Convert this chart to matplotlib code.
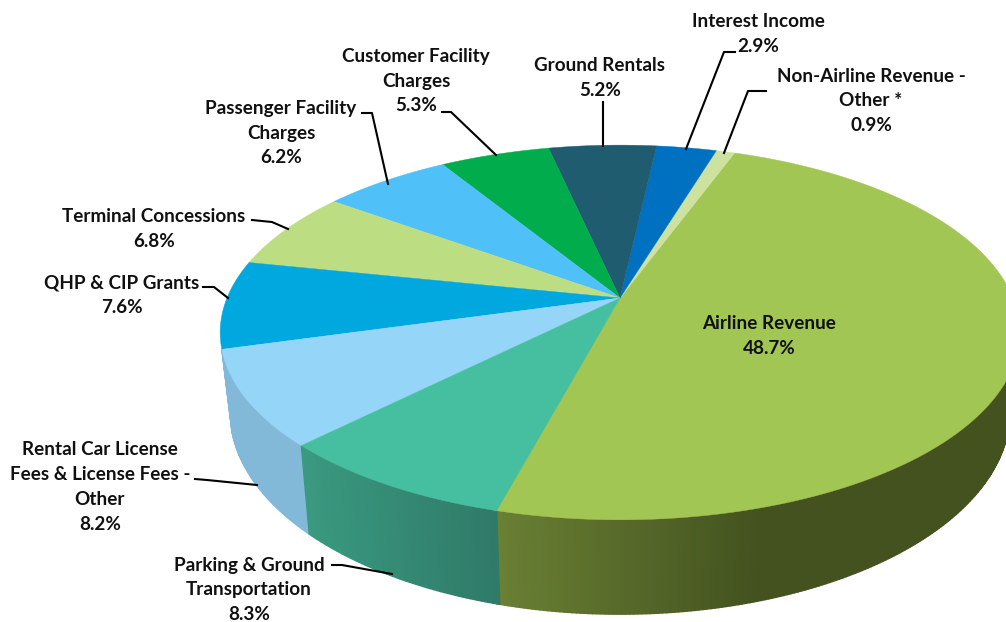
import numpy as np
import matplotlib
matplotlib.use("Agg")
import matplotlib.pyplot as plt
from matplotlib.colors import to_rgb

plt.rcParams['font.family'] = ['Lato', 'DejaVu Sans']

# slices, counter clockwise starting after the airline wedge
categories = ["Airline Revenue", "Non-Airline Revenue - Other *", "Interest Income",
              "Ground Rentals", "Customer Facility Charges", "Passenger Facility Charges",
              "Terminal Concessions", "QHP & CIP Grants",
              "Rental Car License Fees & License Fees - Other",
              "Parking & Ground Transportation"]
shares = [48.7, 0.9, 2.9, 5.2, 5.3, 6.2, 6.8, 7.6, 8.2, 8.3]
top_colors = ["#a1c653", "#cde29f", "#0070c0", "#1f5c70", "#00ac4c", "#4fc1f8",
              "#bddd83", "#00a8e0", "#95d6f8", "#45bfa0"]
wall_colors = {0: "#6a8034", 8: "#82b8d8", 9: "#3a9a80"}  # only these walls show

# tilted disc, pixel-like units
cx, cy = 620, 298
a, b, p = 393, 181, 0.184
depth = 77
shrink = 0.975
start = 70.0


def project(t, drop=0.0):
    u, v = np.cos(t), np.sin(t)
    w = 1 + p * v
    scale = shrink if drop else 1.0
    return cx + scale * a * u / w, cy - b * v / w + drop / w


def shade(i, t):
    # side walls darken towards the lower right, airline goes nearly black green
    base = np.array(to_rgb(wall_colors[i]))
    x = project(t)[0]
    if i == 0:
        f = np.clip((x - 495) / 265, 0, 1)
        return tuple(base * (1 - f) + np.array(to_rgb("#43521f")) * f)
    if i == 9:
        f = np.clip((x - 300) / 195, 0, 1)
        return tuple(base * (1 - f) + np.array(to_rgb("#2f7a68")) * f)
    return tuple(base)


fig = plt.figure(figsize=(10.06, 6.22), dpi=100)
ax = fig.add_axes([0, 0, 1, 1])
ax.set_xlim(0, 1006)
ax.set_ylim(622, 0)
ax.axis('off')

angles = np.radians(start + 3.6 * np.concatenate([[-shares[0]], [0], np.cumsum(shares[1:])]))
edges = [(angles[0], angles[1])] + [(angles[i], angles[i + 1]) for i in range(1, len(shares))]

# walls first
for i, (t0, t1) in enumerate(edges):
    if i not in wall_colors:
        continue
    ts = np.arange(t0, t1, np.radians(0.5))
    ts = np.append(ts, t1)
    for s0, s1 in zip(ts[:-1], ts[1:]):
        if np.sin((s0 + s1) / 2) > -0.02:
            continue
        x0, y0 = project(s0)
        x1, y1 = project(s1)
        x2, y2 = project(s1, depth)
        x3, y3 = project(s0, depth)
        c = shade(i, s0)
        ax.fill([x0, x1, x2, x3], [y0, y1, y2, y3], color=c, lw=1.0)

# top face
for i, (t0, t1) in enumerate(edges):
    ts = np.linspace(t0, t1, 200)
    x, y = project(ts)
    ax.fill(np.r_[cx, x], np.r_[cy, y], color=top_colors[i], lw=0.3)

labels = [
    ("Airline Revenue\n48.7%", 769, 336),
    ("Non-Airline Revenue -\nOther *\n0.9%", 871, 101),
    ("Interest Income\n2.9%", 758, 34),
    ("Ground Rentals\n5.2%", 600, 78),
    ("Customer Facility\nCharges\n5.3%", 416, 81),
    ("Passenger Facility\nCharges\n6.2%", 281, 133),
    ("Terminal Concessions\n6.8%", 154, 229),
    ("QHP & CIP Grants\n7.6%", 122, 295),
    ("Rental Car License\nFees & License Fees -\nOther\n8.2%", 100, 487),
    ("Parking & Ground\nTransportation\n8.3%", 249, 590),
]
for txt, x, y in labels:
    ax.text(x, y, txt, ha='center', va='center', fontsize=13.6, fontweight='bold',
            color='#101010', linespacing=1.56)

leaders = [
    ([766, 748, 724], [91, 91, 153]),
    ([735, 724, 686], [52, 52, 149]),
    ([603, 603], [102, 146]),
    ([442, 451, 496], [112, 112, 155]),
    ([362, 372, 388], [113, 113, 184]),
    ([252, 272, 288], [220, 222, 229]),
    ([203, 214, 228], [287, 287, 298]),
    ([195, 207, 257], [479, 480, 485]),
    ([332, 342, 392], [565, 565, 574]),
]
for xs, ys in leaders:
    ax.plot(xs, ys, color='black', lw=1.5)

fig.savefig("out.png", dpi=100)
